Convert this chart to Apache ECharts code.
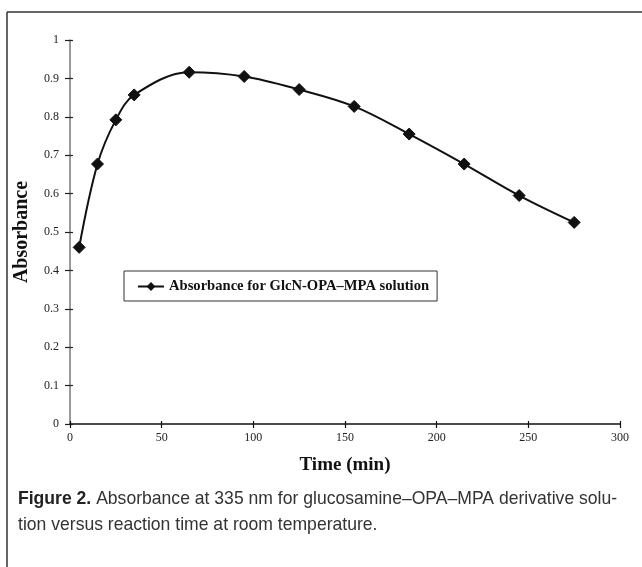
<!DOCTYPE html>
<html>
<head>
<meta charset="utf-8">
<script src="https://cdn.jsdelivr.net/npm/echarts@6/dist/echarts.min.js"></script>
<style>
html,body{margin:0;padding:0;background:#fff;}
#c{width:642px;height:567px;}
</style>
</head>
<body>
<div id="c"></div>
<script>
var times = [5, 15, 25, 35, 65, 95, 125, 155, 185, 215, 245, 275];
var absorbance = [0.46, 0.677, 0.792, 0.857, 0.916, 0.905, 0.871, 0.827, 0.755, 0.677, 0.595, 0.525];
var seriesName = 'Absorbance for GlcN-OPA\u2013MPA solution';
var xTitle = 'Time (min)';
var yTitle = 'Absorbance';
var captionBold = 'Figure 2.';
var captionLine1 = ' Absorbance at 335 nm for glucosamine\u2013OPA\u2013MPA derivative solu-';
var captionLine2 = 'tion versus reaction time at room temperature.';

var serif = '"Liberation Serif", "DejaVu Serif", serif';
var capFont = '"Liberation Sans", sans-serif';

var chart = echarts.init(document.getElementById('c'), null, {renderer: 'canvas'});
var data = times.map(function (t, i) { return [t, absorbance[i]]; });

chart.setOption({
  animation: false,
  backgroundColor: '#fff',
  grid: {left: 70, right: 22, top: 40, bottom: 143, containLabel: false},
  legend: {
    left: 124, top: 271,
    padding: [8, 8, 7, 13],
    itemWidth: 26, itemHeight: 11, itemGap: 5,
    borderColor: '#333', borderWidth: 1,
    textStyle: {fontFamily: serif, fontWeight: 'bold', fontSize: 14.6, color: '#111'},
    data: [seriesName]
  },
  xAxis: [{
    type: 'value', min: 0, max: 300, interval: 50,
    name: xTitle, nameLocation: 'middle', nameGap: 32,
    nameTextStyle: {fontFamily: serif, fontWeight: 'bold', fontSize: 19, color: '#111'},
    axisLine: {show: true, onZero: false, lineStyle: {color: '#111', width: 1.5}},
    axisTick: {show: true, inside: false, length: 4, lineStyle: {color: '#111', width: 1.2}},
    axisLabel: {fontFamily: serif, fontSize: 12, color: '#222', margin: 8},
    splitLine: {show: false}
  }, {
    type: 'value', min: 0, max: 300, interval: 50, position: 'bottom',
    axisLine: {show: false},
    axisTick: {show: true, inside: true, length: 3, lineStyle: {color: '#111', width: 1.2}},
    axisLabel: {show: false},
    splitLine: {show: false}
  }],
  yAxis: [{
    type: 'value', min: 0, max: 1, interval: 0.1,
    name: yTitle, nameLocation: 'middle', nameGap: 38, nameRotate: 90,
    nameTextStyle: {fontFamily: serif, fontWeight: 'bold', fontSize: 20, color: '#111'},
    axisLine: {show: true, onZero: false, lineStyle: {color: '#777', width: 1.5}},
    axisTick: {show: true, inside: false, length: 5, lineStyle: {color: '#222', width: 1.2}},
    axisLabel: {fontFamily: serif, fontSize: 12, color: '#222', margin: 11},
    splitLine: {show: false}
  }, {
    type: 'value', min: 0, max: 1, interval: 0.1, position: 'left',
    axisLine: {show: false},
    axisTick: {show: true, inside: true, length: 3, lineStyle: {color: '#222', width: 1.2}},
    axisLabel: {show: false},
    splitLine: {show: false}
  }],
  series: [{
    name: seriesName,
    type: 'line',
    smooth: 0.35,
    xAxisIndex: 0, yAxisIndex: 0,
    data: data,
    symbol: 'diamond',
    symbolSize: 12,
    showAllSymbol: true,
    itemStyle: {color: '#111', borderColor: '#111'},
    lineStyle: {color: '#111', width: 2}
  }],
  graphic: [
    {type: 'line', shape: {x1: 7, y1: 12, x2: 642, y2: 12}, style: {stroke: '#333', lineWidth: 1.5}, silent: true},
    {type: 'line', shape: {x1: 7, y1: 12, x2: 7, y2: 567}, style: {stroke: '#333', lineWidth: 1.5}, silent: true},
    {
      type: 'text', x: 18, y: 486, scaleX: 0.925, scaleY: 1,
      style: {
        text: '{b|' + captionBold + '}{r|' + captionLine1 + '}\n{r|' + captionLine2 + '}',
        rich: {
          b: {fontFamily: capFont, fontWeight: 'bold', fontSize: 19, lineHeight: 26, fill: '#222'},
          r: {fontFamily: capFont, fontSize: 19, lineHeight: 26, fill: '#333'}
        }
      }
    }
  ]
});
</script>
</body>
</html>
